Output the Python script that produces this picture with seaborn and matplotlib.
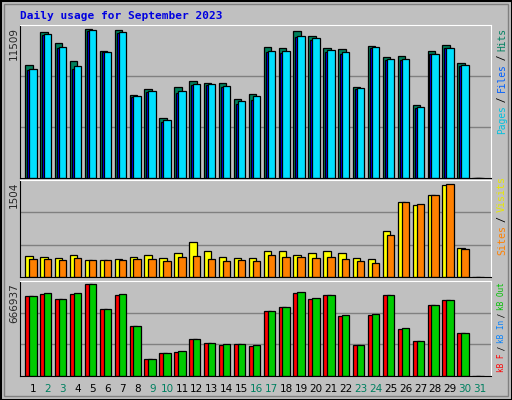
import numpy as np
import matplotlib
matplotlib.use("Agg")
import matplotlib.pyplot as plt
import seaborn as sns

days = list(range(1, 32))
weekend = [2, 3, 9, 10, 16, 17, 23, 24, 30, 31]

hits = [8525, 10953, 10118, 8828, 11180, 9587, 11105, 6248, 6703, 4503, 6855, 7310, 7158, 7158, 5944,
        6324, 9890, 9814, 11029, 10649, 9814, 9739, 6855, 9966, 9131, 9207, 5489, 9587, 10042, 8676, 0]
files = [8221, 10801, 9890, 8448, 11105, 9511, 10953, 6172, 6551, 4351, 6551, 7083, 7083, 6931, 5793,
         6172, 9587, 9587, 10649, 10497, 9663, 9511, 6779, 9890, 8980, 8980, 5337, 9359, 9814, 8525, 0]
pages = [8150, 10750, 9800, 8200, 11050, 9450, 10900, 6100, 6450, 4250, 6400, 7000, 7000, 6850, 5550,
         5900, 9450, 9400, 10600, 10400, 9500, 9350, 6700, 9800, 8900, 8900, 5250, 9300, 9750, 8400, 0]
visits = [337, 320, 304, 353, 272, 272, 288, 320, 353, 304, 386, 565, 418, 320, 304,
          304, 418, 418, 353, 386, 418, 386, 304, 288, 744, 1216, 1167, 1314, 1488, 467, 0]
sites = [288, 288, 272, 304, 272, 272, 272, 288, 288, 255, 320, 337, 288, 255, 272,
         255, 353, 320, 320, 304, 320, 288, 255, 223, 679, 1216, 1184, 1314, 1504, 451, 0]
kb_out = [583877, 605864, 561890, 605864, 666937, 488600, 598535, 364007, 122150, 166124, 180782,
          268730, 239414, 232085, 232085, 224756, 473942, 503258, 613193, 569219, 591206, 444626,
          224756, 451955, 591206, 349349, 254072, 517916, 554561, 312704, 0]
kb_f = [583877, 598535, 561890, 598535, 666937, 488600, 591206, 364007, 122150, 166124, 173453,
        268730, 239414, 224756, 232085, 217427, 473942, 503258, 605864, 561890, 591206, 437297,
        224756, 444626, 591206, 342020, 254072, 517916, 554561, 312704, 0]

sns.set_style("white")
plt.rcParams["font.family"] = ["DejaVu Sans Mono", "DejaVu Sans"]
GRAY = "#C0C0C0"

fig = plt.figure(figsize=(5.12, 4.0), dpi=100, facecolor=GRAY)
W, H = 512, 400

# outer frame
fig.patches.append(plt.Rectangle((0.5 / W, 0.5 / H), 1 - 1 / W, 1 - 1 / H, transform=fig.transFigure,
                                 fill=False, edgecolor="black", linewidth=1.5))
fig.patches.append(plt.Rectangle((4 / W, 4 / H), 1 - 8 / W, 1 - 8 / H, transform=fig.transFigure,
                                 fill=False, edgecolor="#808080", linewidth=1))

def make_ax(top, bottom):
    ax = fig.add_axes([20 / W, 1 - bottom / H, 471 / W, (bottom - top) / H])
    ax.set_facecolor(GRAY)
    ax.set_xlim(0.128, 31.74)
    ax.set_xticks([])
    ax.set_yticks([])
    for s in ["left", "bottom"]:
        ax.spines[s].set_color("black")
    for s in ["top", "right"]:
        ax.spines[s].set_color("white")
    return ax

x = np.array(days, dtype=float)
kw = dict(width=0.5, align="edge", edgecolor="black", linewidth=0.9)

# top panel
ax1 = make_ax(25, 178)
ax1.set_ylim(0, 11509)
for g in [11509 / 3, 2 * 11509 / 3]:
    ax1.axhline(g, color="#808080", lw=1, zorder=0)
ax1.bar(x - 0.52, hits, color="#00805C", **kw)
ax1.bar(x - 0.39, pages, color="#0000FF", **kw)
ax1.bar(x - 0.26, files, color="#00E0FF", **kw)

# middle panel
ax2 = make_ax(180, 277)
ax2.set_ylim(0, 1504 * 288 / 277)
for g in [1504 * 288 / 277 / 3, 2 * 1504 * 288 / 277 / 3]:
    ax2.axhline(g, color="#808080", lw=1, zorder=0)
ax2.bar(x - 0.52, visits, color="#FFFF00", **kw)
ax2.bar(x - 0.26, sites, color="#FF8000", **kw)

# bottom panel
ax3 = make_ax(281, 376)
ymax3 = 666937 * 283 / 273
ax3.set_ylim(0, ymax3)
for g in [ymax3 / 3, 2 * ymax3 / 3]:
    ax3.axhline(g, color="#808080", lw=1, zorder=0)
ax3.bar(x - 0.52, kb_f, color="#FF0000", **kw)
ax3.bar(x - 0.26, kb_out, color="#00CC00", **kw)

# day labels
for d in days:
    px = 33 + (480 - 33) / 30 * (d - 1)
    fig.text(px / W, 1 - 389 / H, str(d), ha="center", va="center", fontsize=7.5,
             family="DejaVu Sans", color="#008060" if d in weekend else "black")

fig.text(20 / W, 1 - 16 / H, "Daily usage for September 2023", ha="left", va="center",
         fontsize=8, fontweight="bold", color="#0000E0")

for label, top in [("11509", 27), ("1504", 182), ("666937", 283)]:
    fig.text(14 / W, 1 - top / H, label, rotation=90, ha="center", va="top",
             fontsize=7.5, family="DejaVu Sans")

def legend(pieces, y_bottom, y_top, xpx=502):
    n = sum(len(p) for p, _ in pieces)
    cw = (y_bottom - y_top) / n
    y = y_bottom
    for p, c in pieces:
        fig.text(xpx / W, 1 - y / H, p, rotation=90, ha="center", va="bottom",
                 fontsize=cw / 0.602 * 0.72 * 1.12, color=c)
        y -= cw * len(p)

legend([("Pages", "#00C0E0"), (" / ", "black"), ("Files", "#0060FF"),
        (" / ", "black"), ("Hits", "#008060")], 134, 30)
legend([("Sites", "#FF8000"), (" / ", "black"), ("Visits", "#E8E800")], 255, 180)
legend([("kB F", "#FF0000"), (" / ", "black"), ("kB In", "#0080FF"),
        (" / ", "black"), ("kB Out", "#00C000")], 372, 285)

fig.savefig("out.png", dpi=100, facecolor=GRAY)
